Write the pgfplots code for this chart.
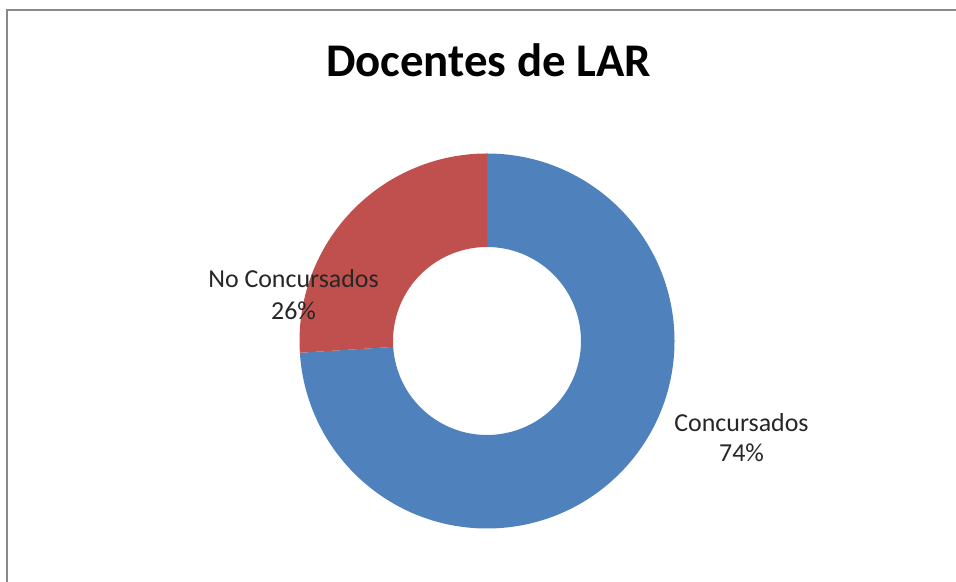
\documentclass[border=0pt]{standalone}
\usepackage{pgfplots}
\pgfplotsset{compat=1.18}
\usepackage{pgfplotstable}
\usepackage{fontspec}
\setmainfont{Carlito}
\definecolor{sliceblue}{HTML}{4F81BD}
\definecolor{slicered}{HTML}{C0504D}
\definecolor{framegray}{HTML}{898989}
\pgfplotstableread[col sep=comma]{
label,value
Concursados,74
No Concursados,26
}\piedata
\begin{document}
\begin{tikzpicture}
\pgfplotstablegetelem{0}{value}\of\piedata \let\va\pgfplotsretval
\pgfplotstablegetelem{1}{value}\of\piedata \let\vb\pgfplotsretval
\pgfmathsetmacro{\total}{\va+\vb}
\pgfmathsetmacro{\fa}{\va/\total}
\pgfmathsetmacro{\angA}{90-360*\fa}
\pgfmathsetmacro{\angB}{\angA+360}
\begin{axis}[at={(0,0)},anchor=south west,scale only axis,width=956bp,height=582bp,
  xmin=0,xmax=956,ymin=0,ymax=582,hide axis,clip=false,
  /pgf/number format/assume math mode=true]
\coordinate (c) at (axis cs:487,241);
\fill[sliceblue] ([shift={(90:187.5bp)}]c) arc[start angle=90,end angle=\angA,radius=187.5bp]
  -- ([shift={(\angA:94bp)}]c) arc[start angle=\angA,end angle=90,radius=94bp] -- cycle;
\fill[slicered] ([shift={(90:187.5bp)}]c) arc[start angle=90,end angle=\angB,radius=187.5bp]
  -- ([shift={(\angB:94bp)}]c) arc[start angle=\angB,end angle=90,radius=94bp] -- cycle;
\draw[framegray,line width=2.2bp] (axis cs:7,-5) -- (axis cs:7,572) -- (axis cs:962,572);
\node[anchor=base,font=\fontsize{47}{56}\selectfont\bfseries] at (axis cs:488.5,505) {Docentes de LAR};
\node[anchor=base,font=\fontsize{26}{32}\selectfont,text=black!85] at (axis cs:293.5,294) {No Concursados};
\node[anchor=base,font=\fontsize{26}{32}\selectfont,text=black!85] at (axis cs:293.5,262) {\pgfmathprintnumber[assume math mode=true]{\vb}\%};
\node[anchor=base,font=\fontsize{26}{32}\selectfont,text=black!85] at (axis cs:741.5,150) {Concursados};
\node[anchor=base,font=\fontsize{26}{32}\selectfont,text=black!85] at (axis cs:741.5,120) {\pgfmathprintnumber[assume math mode=true]{\va}\%};
\end{axis}
\pgfresetboundingbox
\path[use as bounding box] (0,0) rectangle (956bp,582bp);
\end{tikzpicture}
\end{document}
